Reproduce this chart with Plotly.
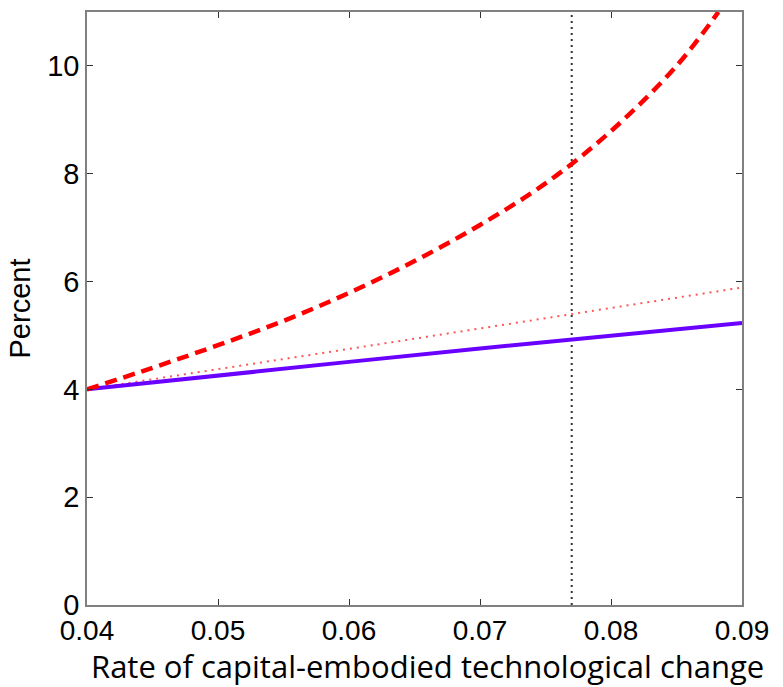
import plotly.graph_objects as go

# Data
x_lin = [0.04, 0.05, 0.06, 0.07, 0.08, 0.09]
solid_vals = [4.00, 4.26, 4.51, 4.76, 5.00, 5.23]
dotted_vals = [4.00, 4.37, 4.75, 5.13, 5.51, 5.89]

x_dash = [0.040, 0.045, 0.050, 0.055, 0.060, 0.065, 0.070, 0.075, 0.080, 0.085, 0.0882]
dash_vals = [4.00, 4.40, 4.82, 5.27, 5.79, 6.38, 7.05, 7.82, 8.79, 10.0, 11.0]

vline_x = 0.077
y_range = [0, 11]

x_ticks = [0.04, 0.05, 0.06, 0.07, 0.08, 0.09]
x_tick_text = ["0.04", "0.05", "0.06", "0.07", "0.08", "0.09"]
y_ticks = [0, 2, 4, 6, 8, 10]

fig = go.Figure()

fig.add_trace(go.Scatter(x=[vline_x, vline_x], y=y_range, mode="lines",
                         line=dict(color="#333333", width=2, dash="2px,4px"),
                         showlegend=False, hoverinfo="skip"))
fig.add_trace(go.Scatter(x=x_lin, y=dotted_vals, mode="lines",
                         line=dict(color="#ff5555", width=2, dash="2px,5px"),
                         showlegend=False))
fig.add_trace(go.Scatter(x=x_lin, y=solid_vals, mode="lines",
                         line=dict(color="#6a00ff", width=4),
                         showlegend=False))
fig.add_trace(go.Scatter(x=x_dash, y=dash_vals, mode="lines", line_shape="spline",
                         line=dict(color="#ff0000", width=4.5, dash="12px,7px"),
                         showlegend=False))

axis_common = dict(showline=True, linecolor="#808080", linewidth=1.5, mirror="ticks",
                   ticks="inside", ticklen=6, tickwidth=1.2, tickcolor="#333333",
                   showgrid=False, zeroline=False)

fig.update_xaxes(range=[0.04, 0.09], tickvals=x_ticks, ticktext=x_tick_text, **axis_common,
                 tickfont=dict(family="Liberation Sans, Arial", size=28, color="black"))
fig.update_yaxes(range=y_range, tickvals=y_ticks, **axis_common,
                 tickfont=dict(family="Liberation Sans, Arial", size=29, color="black"),
                 title=dict(text="Percent", standoff=8,
                            font=dict(family="Liberation Sans, Arial", size=29, color="black")))

fig.add_annotation(text="Rate of capital-embodied technological change",
                   xref="paper", yref="paper", x=0.52, y=0, yshift=-38,
                   xanchor="center", yanchor="top", showarrow=False,
                   font=dict(family="Open Sans, Lato", size=31, color="black"))

fig.update_layout(width=783, height=687, margin=dict(l=87, r=41, t=10, b=82),
                  plot_bgcolor="white", paper_bgcolor="white")

fig.write_html("out.html")
